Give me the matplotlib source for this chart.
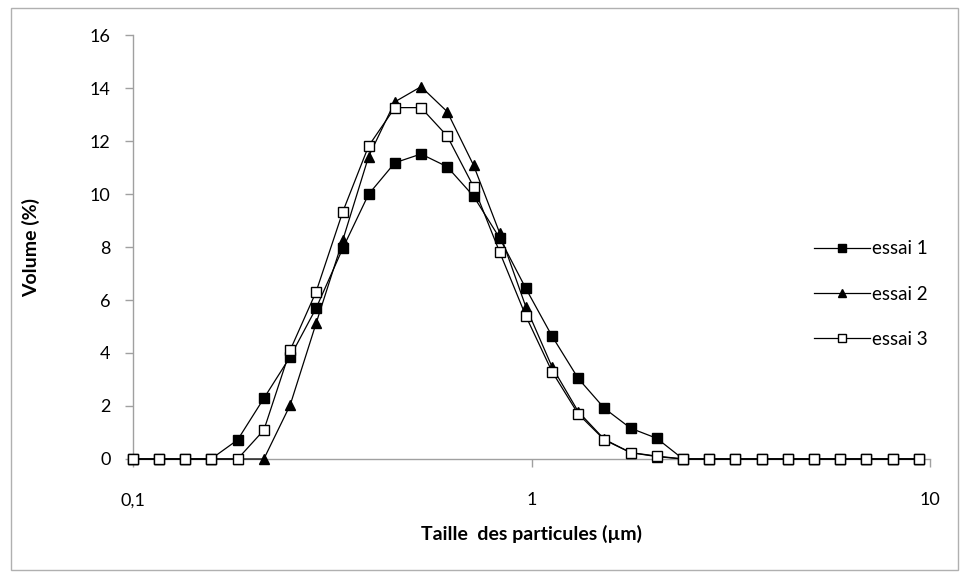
import matplotlib.pyplot as plt

# Particle size classes (µm)
taille = [0.100, 0.116, 0.135, 0.157, 0.183, 0.213, 0.248, 0.288, 0.336, 0.390,
          0.454, 0.528, 0.614, 0.715, 0.832, 0.967, 1.125, 1.309, 1.523, 1.772,
          2.061, 2.398, 2.789, 3.245, 3.775, 4.392, 5.108, 5.943, 6.913, 8.043, 9.355]

# Volume (%) for each run
essai1 = [0, 0, 0, 0, 0.72, 2.29, 3.86, 5.69, 7.95, 9.99,
          11.18, 11.51, 11.03, 9.92, 8.33, 6.44, 4.64, 3.04, 1.91, 1.16,
          0.78, 0, 0, 0, 0, 0, 0, 0, 0, 0, 0]
essai2 = [0, 0, 0, 0, 0, 0, 2.04, 5.12, 8.26, 11.41,
          13.48, 14.05, 13.11, 11.09, 8.52, 5.75, 3.48, 1.79, 0.74, 0.24,
          0.09, 0, 0, 0, 0, 0, 0, 0, 0, 0, 0]
essai3 = [0, 0, 0, 0, 0, 1.09, 4.11, 6.31, 9.33, 11.81,
          13.26, 13.26, 12.19, 10.28, 7.80, 5.40, 3.30, 1.70, 0.72, 0.24,
          0.11, 0, 0, 0, 0, 0, 0, 0, 0, 0, 0]

plt.rcParams['font.family'] = ['Lato', 'DejaVu Sans']

fig = plt.figure(figsize=(9.6, 5.78), dpi=100)
# light border around the chart area
fig.patches.append(plt.Rectangle((0.011, 0.014), 0.987, 0.972, transform=fig.transFigure,
                                 fill=False, edgecolor='#b0b0b0', lw=1))
ax = fig.add_axes([0.1385, 0.2059, 0.8305, 0.7335])

ax.plot(taille, essai1, color='black', lw=0.9, marker='s', ms=7.5,
        mfc='black', mec='black', label='essai 1', clip_on=False, zorder=3)
ax.plot(taille, essai2, color='black', lw=0.9, marker='^', ms=7.5,
        mfc='black', mec='black', label='essai 2', clip_on=False, zorder=3)
ax.plot(taille, essai3, color='black', lw=0.9, marker='s', ms=6.5,
        mfc='white', mec='black', mew=1.0, label='essai 3', clip_on=False, zorder=4)

ax.set_xscale('log')
ax.set_xlim(0.1, 10)
ax.set_ylim(0, 16)
ax.set_xticks([0.1, 1, 10])
ax.set_xticklabels(['0,1', '1', '10'])
ax.minorticks_off()
ax.set_yticks(range(0, 17, 2))

for s in ['top', 'right']:
    ax.spines[s].set_visible(False)
for s in ['left', 'bottom']:
    ax.spines[s].set_color('#a0a0a0')
    ax.spines[s].set_linewidth(1)
ax.tick_params(axis='both', color='#a0a0a0', length=6, width=1, labelsize=13)
ax.tick_params(axis='x', pad=18)
ax.tick_params(axis='y', pad=10)

ax.set_xlabel('Taille  des particules (µm)', fontsize=14, fontweight='bold', labelpad=12)
ax.set_ylabel('Volume (%)', fontsize=14, fontweight='bold', labelpad=36)

leg = ax.legend(loc='center left', bbox_to_anchor=(0.842, 0.389), frameon=False,
                fontsize=13.5, labelspacing=1.5, handlelength=3.0, handletextpad=0.1,
                borderpad=0, markerscale=0.85)

fig.savefig('out.png', dpi=100)
